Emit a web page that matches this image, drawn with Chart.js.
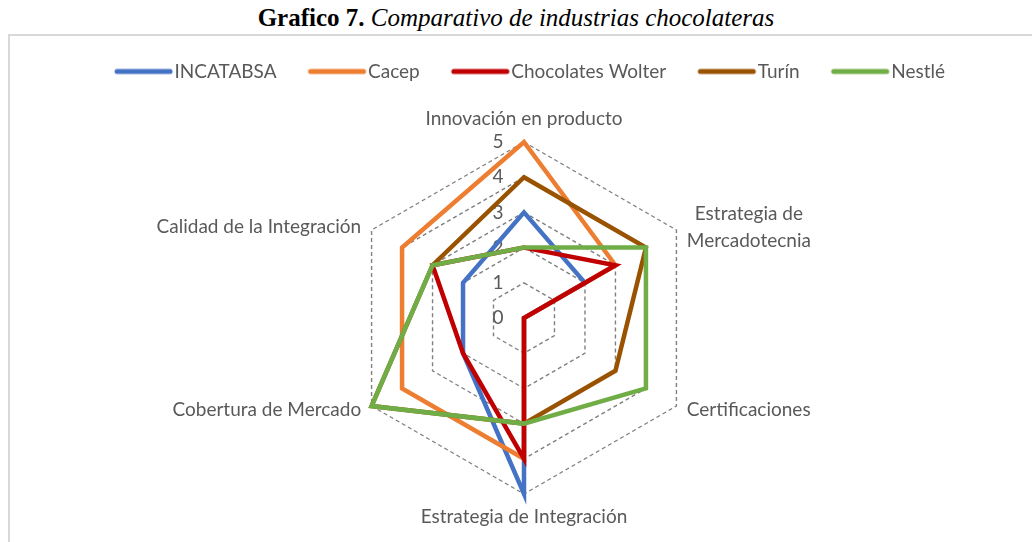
<!DOCTYPE html>
<html>
<head>
<meta charset="utf-8">
<title>Grafico 7</title>
<script src="https://cdn.jsdelivr.net/npm/chart.js@4.4.1/dist/chart.umd.min.js"></script>
<style>
  html, body { margin: 0; padding: 0; width: 1032px; height: 542px; overflow: hidden; background: #fff; }
  #titulo { position: absolute; left: 0; top: 5px; width: 1032px; text-align: center; font-family: "Liberation Serif", serif; font-size: 25px; line-height: 26px; color: #000; }
  #titulo b { font-weight: bold; }
  #marco { position: absolute; left: 8px; top: 34px; width: 1040px; height: 540px; border-left: 2px solid #d9d9d9; border-top: 2px solid #d9d9d9; }
  #grafico { position: absolute; left: 0; top: 0; }
</style>
</head>
<body>
<div id="titulo"><b>Grafico 7.</b> <i>Comparativo de industrias chocolateras</i></div>
<div id="marco"></div>
<canvas id="grafico" width="1032" height="542"></canvas>
<script>
// datos del grafico
const categorias = ['Innovación en producto', ['Estrategia de', 'Mercadotecnia'], 'Certificaciones',
  'Estrategia de Integración', 'Cobertura de Mercado', 'Calidad de la Integración'];
const ticks = [0, 1, 2, 3, 4, 5];
const incatabsa = [3, 2, 0, 5, 2, 2];
const cacep = [5, 3, 0, 4, 4, 4];
const wolter = [2, 3, 0, 4, 2, 3];
const turin = [4, 4, 3, 3, 5, 3];
const nestle = [2, 4, 4, 3, 5, 3];

const fuente = 'Lato';
const gris = '#595959';
const RADIO = 176, CX = 524, CY = 318;

// muestra de linea para la leyenda (linea larga pegada al texto, como en Excel)
function muestra(color) {
  const c = document.createElement('canvas');
  c.width = 70; c.height = 8;
  const g = c.getContext('2d');
  g.strokeStyle = color;
  g.lineWidth = 5;
  g.lineCap = 'round';
  g.beginPath();
  g.moveTo(12, 4);
  g.lineTo(65, 4);
  g.stroke();
  return c;
}

function serie(nombre, datos, color, i) {
  return {
    label: nombre, data: datos, borderColor: color, backgroundColor: color,
    borderWidth: 4.5, fill: false, pointRadius: 0, pointHoverRadius: 0,
    pointStyle: muestra(color),
    borderJoinStyle: 'miter', borderCapStyle: 'round',
    order: 10 - i // en Excel la ultima serie queda encima
  };
}

// etiquetas de los ejes y de la escala
const etiquetas = {
  id: 'etiquetas',
  beforeDatasetsDraw(chart) {
    const s = chart.scales.r, ctx = chart.ctx;
    ctx.save();
    ctx.font = '19px ' + fuente;
    ctx.fillStyle = gris;
    ctx.textAlign = 'center';
    ctx.textBaseline = 'middle';
    ticks.forEach(v => {
      ctx.fillText(String(v), s.xCenter - 26, s.yCenter - s.getDistanceFromCenterForValue(v));
    });
    ctx.restore();
  },
  afterDraw(chart) {
    const s = chart.scales.r, ctx = chart.ctx;
    ctx.save();
    ctx.font = '19px ' + fuente;
    ctx.fillStyle = gris;
    ctx.textBaseline = 'middle';
    const lh = 27;
    categorias.forEach((c, i) => {
      const lineas = Array.isArray(c) ? c : [c];
      const ang = i * 60;
      const lado = (ang === 0 || ang === 180);
      const p = s.getPointPosition(i, s.drawingArea + (lado ? 23 : 12));
      const ancho = Math.max(...lineas.map(l => ctx.measureText(l).width));
      let xc;
      if (lado) xc = p.x;
      else if (ang < 180) xc = p.x + ancho / 2;
      else xc = p.x - ancho / 2;
      let y0 = p.y - (lineas.length - 1) * lh / 2;
      if (!lado) y0 += (ang < 90 || ang > 270) ? 3 : -2;
      ctx.textAlign = 'center';
      lineas.forEach((l, k) => ctx.fillText(l, xc, y0 + k * lh));
    });
    ctx.restore();
  }
};

new Chart(document.getElementById('grafico'), {
  type: 'radar',
  data: {
    labels: categorias,
    datasets: [
      serie('INCATABSA', incatabsa, '#4472C4', 0),
      serie('Cacep', cacep, '#ED7D31', 1),
      serie('Chocolates Wolter', wolter, '#C00000', 2),
      serie('Turín', turin, '#995200', 3),
      serie('Nestlé', nestle, '#70AD47', 4)
    ]
  },
  options: {
    responsive: false,
    animation: false,
    layout: { padding: { top: 30, left: 28, right: 0, bottom: 16 } },
    plugins: {
      tooltip: { enabled: false },
      legend: {
        position: 'top',
        labels: {
          usePointStyle: true, pointStyleWidth: 50,
          padding: 32, color: gris, font: { family: fuente, size: 19 },
          sort: (a, b) => a.datasetIndex - b.datasetIndex
        }
      }
    },
    scales: {
      r: {
        min: 0, max: 5,
        ticks: { display: false, stepSize: 1 },
        pointLabels: { display: false },
        angleLines: { display: false },
        grid: { color: '#808080', lineWidth: 1.4 },
        border: { dash: [4, 3] },
        afterFit(axis) {
          axis.xCenter = CX;
          axis.yCenter = CY;
          axis.drawingArea = RADIO;
        }
      }
    }
  },
  plugins: [etiquetas]
});
</script>
</body>
</html>
